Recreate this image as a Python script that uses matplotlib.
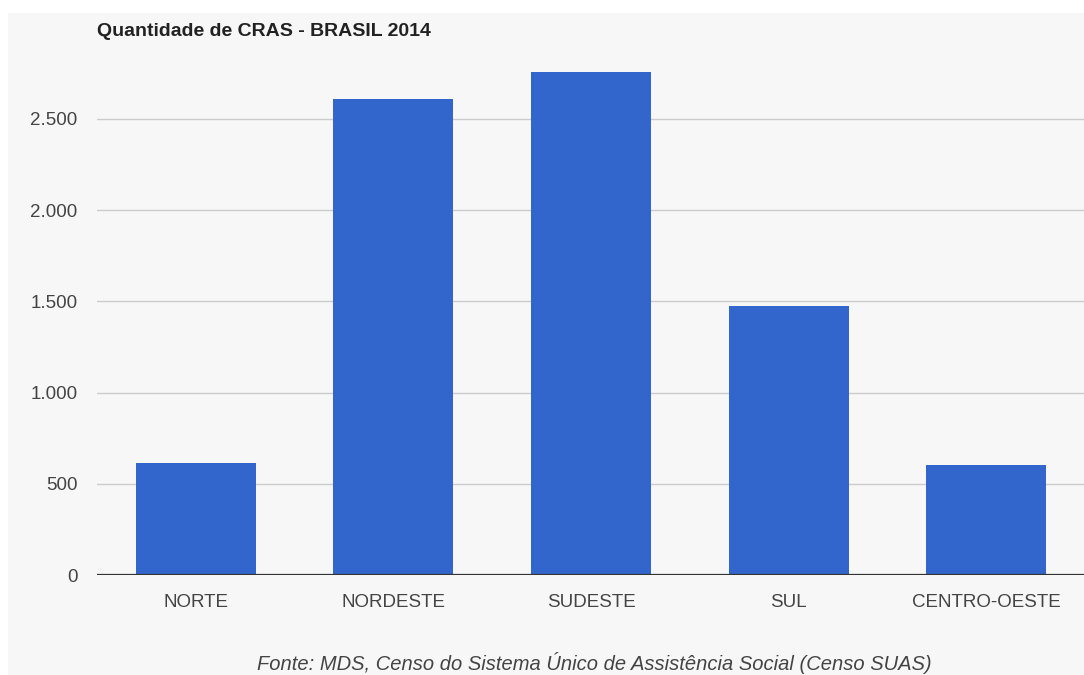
import matplotlib
matplotlib.use("Agg")
import matplotlib.pyplot as plt
from matplotlib.patches import Rectangle
from matplotlib.ticker import FuncFormatter

# Dados (Censo SUAS 2014)
regioes = ["NORTE", "NORDESTE", "SUDESTE", "SUL", "CENTRO-OESTE"]
qtd_cras = [614, 2610, 2758, 1475, 603]
y_ticks = [0, 500, 1000, 1500, 2000, 2500]

plt.rcParams['font.family'] = ['Liberation Sans', 'DejaVu Sans']

fig = plt.figure(figsize=(10.84, 6.75), dpi=100)
fig.patch.set_facecolor("white")
# fundo cinza claro
fig.patches.append(Rectangle((8 / 1084, 0), 1, (675 - 13) / 675,
                             transform=fig.transFigure, facecolor="#f7f7f7",
                             edgecolor="none", zorder=-10))

ax = fig.add_axes([97 / 1084, 100 / 675, 988 / 1084, 529 / 675])
ax.set_facecolor("none")

x = list(range(len(regioes)))
ax.bar(x, qtd_cras, width=0.607, color="#3366cc", zorder=3)

ax.set_xlim(-0.5, 4.5)
ax.set_ylim(0, 2900)
ax.set_yticks(y_ticks)
ax.yaxis.set_major_formatter(FuncFormatter(lambda v, p: f"{int(v):,}".replace(",", ".")))
ax.grid(axis="y", color="#cccccc", linewidth=1, zorder=0)
ax.axhline(0, color="#333333", linewidth=1.6, zorder=4)

for s in ax.spines.values():
    s.set_visible(False)
ax.tick_params(axis="both", length=0, labelsize=13.5, colors="#444444")
ax.tick_params(axis="y", pad=14)
ax.tick_params(axis="x", pad=13.5)
ax.set_xticks(x)
ax.set_xticklabels(regioes)

fig.text(97 / 1084, (675 - 31) / 675, "Quantidade de CRAS - BRASIL 2014",
         fontsize=14, fontweight="bold", color="#222222", va="center", ha="left")
fig.text(594 / 1084, 1 / 675,
         "Fonte: MDS, Censo do Sistema Único de Assistência Social (Censo SUAS)",
         fontsize=14.5, style="italic", color="#444444", va="bottom", ha="center")

fig.savefig("out.png", dpi=100)
